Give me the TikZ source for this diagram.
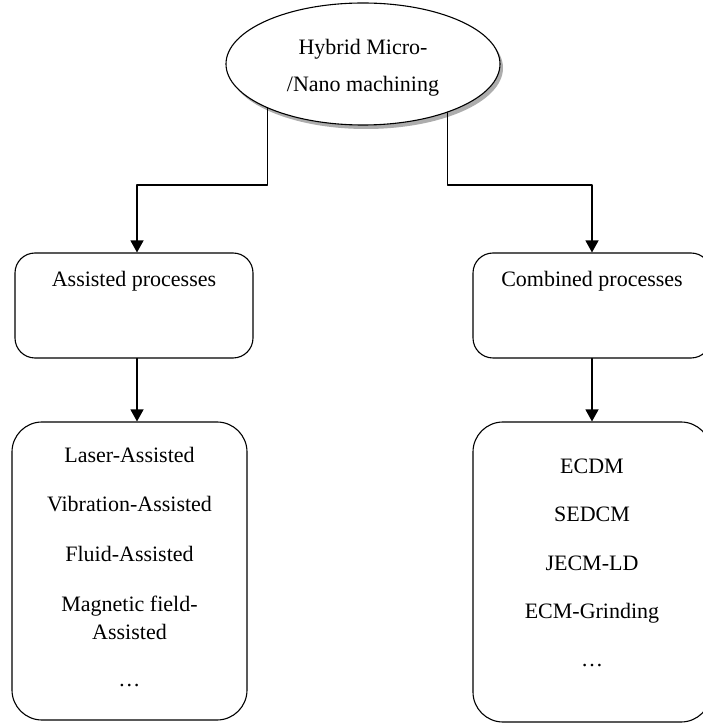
\documentclass[tikz,border=0pt]{standalone}
\usepackage{fontspec}
\setmainfont{Liberation Serif}
\usepackage{xcolor}
\usepackage{tikz}
\usetikzlibrary{arrows.meta,positioning,calc,shadows,shapes.geometric}
\definecolor{ink}{HTML}{000000}
\definecolor{shade}{HTML}{8A8A8A}
\tikzset{
    every picture/.style={line cap=round,line join=round},
    rootnode/.style={draw=ink,ellipse,fill=white,line width=1.1pt,
      minimum width=274pt,minimum height=122pt,inner sep=0pt,align=center,
      drop shadow={shadow xshift=3pt,shadow yshift=-4pt,fill=shade,opacity=.7}},
    groupbox/.style={draw=ink,rounded corners=20pt,line width=1.1pt,
      minimum width=238pt,minimum height=105pt},
    listbox/.style={draw=ink,rounded corners=30pt,line width=1.1pt,
      minimum width=236pt,minimum height=300pt},
    boxtext/.style={text=ink,align=center,inner sep=0pt},
    flowarrow/.style={-{Triangle[length=12pt,width=13pt]},draw=ink,
      line width=1.3pt}
}

\begin{document}
\begin{tikzpicture}[x=1pt,y=1pt,font=\fontsize{22}{28}\selectfont]
  \clip (0,0) rectangle (703,724);
  \node[rootnode] (hybrid) at (363,660) {};
  \node[boxtext] (hybridtxt) at ([yshift=-4pt]hybrid.center) {Hybrid Micro-\\[9pt]/Nano machining};
  % second level
  \node[groupbox] (assisted) at (134,418.5) {};
  \node[groupbox] (combined) at (592,418.5) {};
  \node[boxtext] (assistedtxt) at ([yshift=-29pt]assisted.north) {Assisted processes};
  \node[boxtext] (combinedtxt) at ([yshift=-29pt]combined.north) {Combined processes};
  % lists
  \node[listbox,minimum width=235pt,minimum height=298pt] (assistlist) at (129.5,153) {};
  \node[listbox,minimum width=238pt] (combinedlist) at (592,152) {};
  \node[boxtext] (assistitems) at ([yshift=4pt]assistlist.center)
    {Laser-Assisted\\[21pt]Vibration-Assisted\\[22pt]Fluid-Assisted\\[22pt]
     Magnetic field-\\Assisted\\[19pt]…};
  \node[boxtext] (combineditems) at ([yshift=9pt]combinedlist.center)
    {ECDM\\[20pt]SEDCM\\[21pt]JECM-LD\\[20pt]ECM-Grinding\\[20pt]…};
  % connectors
  \coordinate (lbend) at (137,539);
  \coordinate (rbend) at (592,539);
  \draw[flowarrow] (hybrid.205) |- (lbend) -- (lbend |- assisted.north);
  \draw[flowarrow] (hybrid.-30) |- (rbend) -- (rbend |- combined.north);
  \draw[flowarrow] (assisted.south -| lbend) -- (assistlist.north -| lbend);
  \draw[flowarrow] (combined.south -| rbend) -- (combinedlist.north -| rbend);
\end{tikzpicture}
\end{document}
